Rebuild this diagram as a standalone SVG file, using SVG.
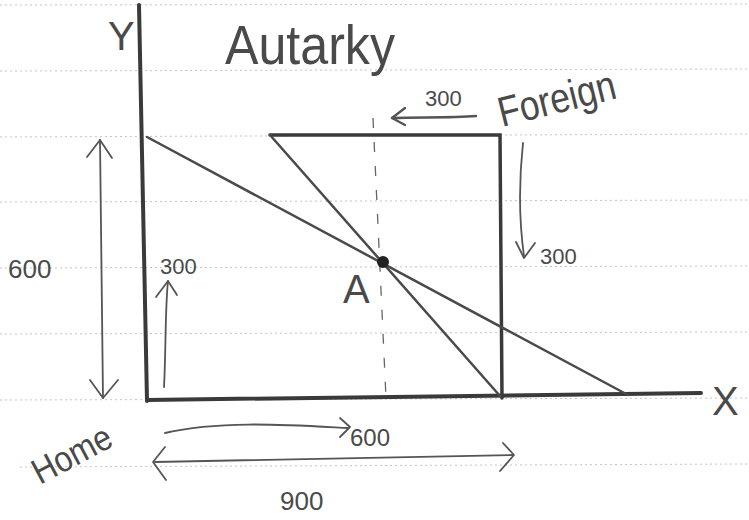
<svg xmlns="http://www.w3.org/2000/svg" width="749" height="520" viewBox="0 0 749 520">
<defs>
<style>
.rule{stroke:#c4c4c4;stroke-width:1;stroke-dasharray:2 3;fill:none}
.axis{stroke:#3a3a3a;stroke-width:4;fill:none;stroke-linecap:round}
.ln{stroke:#4a4a4a;stroke-width:2.5;fill:none;stroke-linecap:round}
.thin{stroke:#555;stroke-width:1.8;fill:none;stroke-linecap:round;stroke-linejoin:round}
.dash{stroke:#666;stroke-width:1.3;fill:none;stroke-dasharray:10 14}
.hw{font-family:"Liberation Sans","DejaVu Sans",sans-serif;fill:#4a4a4a}
</style>
</defs>
<rect width="749" height="520" fill="#ffffff"/>
<g id="ruled-lines">
<line class="rule" x1="0" y1="5" x2="749" y2="4"/>
<line class="rule" x1="0" y1="71" x2="749" y2="69"/>
<line class="rule" x1="0" y1="137" x2="749" y2="134"/>
<line class="rule" x1="0" y1="202" x2="749" y2="200"/>
<line class="rule" x1="0" y1="268" x2="749" y2="266"/>
<line class="rule" x1="0" y1="334" x2="749" y2="332"/>
<line class="rule" x1="0" y1="400" x2="749" y2="398"/>
<line class="rule" x1="20" y1="467" x2="749" y2="464"/>
</g>
<g id="axes">
<line class="axis" x1="139" y1="5" x2="147" y2="401"/>
<line class="axis" x1="147" y1="400" x2="701" y2="393"/>
<text class="hw" x="108" y="50" font-size="40">Y</text>
<text class="hw" x="712" y="415" font-size="40">X</text>
</g>
<g id="title">
<text class="hw" x="225" y="64" font-size="56" textLength="170" lengthAdjust="spacingAndGlyphs">Autarky</text>
</g>
<g id="foreign-box">
<polyline class="axis" style="stroke-width:3.5" points="270,135 500,135 502,398"/>
</g>
<g id="connectors">
<line class="dash" x1="373" y1="118" x2="386" y2="398"/>
<line class="ln" x1="147" y1="137" x2="628" y2="395"/>
<line class="ln" x1="270" y1="135" x2="500" y2="396"/>
<!-- 300 left arrow -->
<path class="thin" style="stroke-width:2.4" d="M476,116 C450,118 420,117 392,118"/>
<path class="thin" style="stroke-width:2.4" d="M405,108 L392,118 L405,125"/>
<!-- right down arrow -->
<path class="thin" d="M523,143 C519,180 519,220 524,256"/>
<path class="thin" d="M516,242 L524,258 L535,243"/>
<!-- left 600 double arrow -->
<path class="thin" d="M100,140 L103,398"/>
<path class="thin" d="M87,157 L100,140 L112,158"/>
<path class="thin" d="M90,380 L103,398 L118,380"/>
<!-- 300 up arrow -->
<path class="thin" d="M164,387 C166,350 165,310 168,281"/>
<path class="thin" d="M156,297 L168,281 L177,295"/>
<!-- 600 bottom arrow -->
<path class="thin" d="M165,433 C220,420 290,425 348,428"/>
<path class="thin" d="M340,418 L350,427 L340,437"/>
<!-- 900 double arrow -->
<path class="thin" d="M155,462 L513,455"/>
<path class="thin" d="M165,447 L153,462 L166,480"/>
<path class="thin" d="M503,443 L514,455 L500,471"/>
</g>
<g id="point-A">
<circle cx="383" cy="262" r="6" fill="#222"/>
<text class="hw" x="343" y="303" font-size="40">A</text>
</g>
<g id="labels">
<text class="hw" x="425" y="106" font-size="22">300</text>
<g transform="translate(502,127) rotate(-14)"><text class="hw" x="0" y="0" font-size="42" textLength="120" lengthAdjust="spacingAndGlyphs">Foreign</text></g>
<text class="hw" x="540" y="264" font-size="22">300</text>
<text class="hw" x="8" y="278" font-size="26">600</text>
<text class="hw" x="160" y="274" font-size="22">300</text>
<g transform="translate(40,485) rotate(-28)"><text class="hw" x="0" y="0" font-size="36" textLength="85" lengthAdjust="spacingAndGlyphs">Home</text></g>
<text class="hw" x="350" y="446" font-size="24">600</text>
<text class="hw" x="280" y="510" font-size="26">900</text>
</g>
</svg>
